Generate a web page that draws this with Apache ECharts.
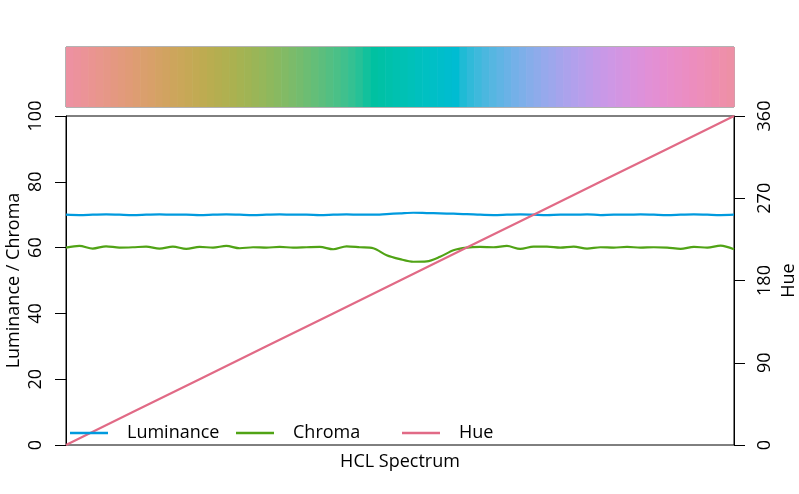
<!DOCTYPE html>
<html>
<head>
<meta charset="utf-8">
<script src="https://cdn.jsdelivr.net/npm/echarts@6/dist/echarts.min.js"></script>
<style>html,body{margin:0;padding:0;background:#fff;}#c{width:799px;height:494px;}</style>
</head>
<body>
<div id="c"></div>
<script>
// Sample positions along the spectrum (0..100)
const positions = [0,2,4,6,8,10,12,14,16,18,20,22,24,26,28,30,32,34,36,38,40,42,44,46,48,50,52,54,56,58,60,62,64,66,68,70,72,74,76,78,80,82,84,86,88,90,92,94,96,98,100];
const luminance = [70.0,69.9,70.0,70.1,70.0,69.9,70.0,70.1,70.0,70.0,69.9,70.0,70.1,70.0,69.9,70.0,70.1,70.0,70.0,69.9,70.0,70.1,70.0,70.0,70.2,70.4,70.6,70.5,70.4,70.3,70.2,70.0,69.9,70.0,70.1,70.0,69.9,70.0,70.0,70.1,69.9,70.0,70.0,70.1,70.0,69.9,70.0,70.1,70.0,69.9,70.0];
const chroma = [60.0,60.5,59.7,60.4,60.0,60.1,60.3,59.7,60.3,59.6,60.2,60.0,60.5,59.8,60.1,60.0,60.2,60.0,60.1,60.2,59.5,60.4,60.1,59.8,57.7,56.5,55.7,55.8,57.2,59.2,60.0,60.2,60.1,60.5,59.6,60.3,60.3,60.0,60.3,59.7,60.1,60.0,60.2,60.0,60.1,60.0,59.6,60.2,60.0,60.6,59.5];
const huePositions = [0,10,20,30,40,50,60,70,80,90,100];
const hue = [0,36,72,108,144,180,216,252,288,324,360];
// Colour bar cell edges (hue degrees)
const barHues = [0,4,8,12,16,20,24,28,32,36,40,44,48,52,56,60,64,68,72,76,80,84,88,92,96,100,104,108,112,116,120,124,128,132,136,140,144,148,152,156,160,164,168,172,176,180,184,188,192,196,200,204,208,212,216,220,224,228,232,236,240,244,248,252,256,260,264,268,272,276,280,284,288,292,296,300,304,308,312,316,320,324,328,332,336,340,344,348,352,356,360];
const leftTicks = [0,20,40,60,80,100];
const rightTicks = [0,90,180,270,360];

function hcl2hex(L, C, H) {
  const h = H * Math.PI / 180;
  const U = C * Math.cos(h), V = C * Math.sin(h);
  const Y = L > 8 ? Math.pow((L + 16) / 116, 3) : L / 903.3;
  const Xn = 0.95047, Yn = 1.0, Zn = 1.08883;
  const t = Xn + 15 * Yn + 3 * Zn;
  const un = 4 * Xn / t, vn = 9 * Yn / t;
  const u = U / (13 * L) + un, v = V / (13 * L) + vn;
  const X = 9 * Y * u / (4 * v);
  const Z = -X / 3 - 5 * Y + 3 * Y / v;
  const lin = [
    3.240479 * X - 1.537150 * Y - 0.498535 * Z,
    -0.969256 * X + 1.875992 * Y + 0.041556 * Z,
    0.055648 * X - 0.204043 * Y + 1.057311 * Z
  ];
  return '#' + lin.map(c => {
    let g = c <= 0.0031308 ? 12.92 * c : 1.055 * Math.pow(Math.max(c, 0), 1 / 2.4) - 0.055;
    g = Math.min(1, Math.max(0, g));
    return Math.round(g * 255).toString(16).padStart(2, '0');
  }).join('');
}

const FONT = 'Open Sans';
const barCells = [];
for (let i = 0; i < barHues.length - 1; i++) {
  barCells.push([barHues[i], barHues[i + 1]]);
}

const chart = echarts.init(document.getElementById('c'), null, {renderer: 'canvas'});
chart.setOption({
  animation: false,
  textStyle: {fontFamily: FONT},
  grid: [
    {left: 66, right: 65, top: 116, bottom: 49, show: true, borderColor: '#000', borderWidth: 1, backgroundColor: 'transparent', containLabel: false, outerBoundsMode: 'none'},
    {left: 66, right: 65, top: 47, height: 60, show: true, borderColor: '#666', borderWidth: 1, backgroundColor: 'transparent', containLabel: false, outerBoundsMode: 'none'}
  ],
  xAxis: [
    {type: 'value', gridIndex: 0, min: 0, max: 100, axisLine: {show: false}, axisTick: {show: false}, axisLabel: {show: false}, splitLine: {show: false},
     name: 'HCL Spectrum', nameLocation: 'middle', nameGap: 8, nameMoveOverlap: false,
     nameTextStyle: {fontFamily: FONT, fontSize: 18, color: '#000', verticalAlign: 'top'}},
    {type: 'value', gridIndex: 1, min: 0, max: 360, show: false}
  ],
  yAxis: [
    {type: 'value', gridIndex: 0, min: 0, max: 100, interval: 20, position: 'left',
     axisLine: {show: true, lineStyle: {color: '#000', width: 1}},
     axisTick: {show: true, length: 11, lineStyle: {color: '#000', width: 1}},
     axisLabel: {rotate: 90, margin: 21, fontFamily: FONT, fontSize: 18, color: '#000'},
     splitLine: {show: false},
     name: 'Luminance / Chroma', nameLocation: 'middle', nameGap: 43, nameRotate: 90, nameMoveOverlap: false,
     nameTextStyle: {fontFamily: FONT, fontSize: 18, color: '#000'}},
    {type: 'value', gridIndex: 0, min: 0, max: 360, interval: 90, position: 'right',
     axisLine: {show: true, lineStyle: {color: '#000', width: 1}},
     axisTick: {show: true, length: 11, lineStyle: {color: '#000', width: 1}},
     axisLabel: {rotate: 90, margin: 22, fontFamily: FONT, fontSize: 18, color: '#000'},
     splitLine: {show: false},
     name: 'Hue', nameLocation: 'middle', nameGap: 46, nameRotate: 90, nameMoveOverlap: false,
     nameTextStyle: {fontFamily: FONT, fontSize: 18, color: '#000'}},
    {type: 'value', gridIndex: 1, min: 0, max: 1, show: false}
  ],
  legend: [
    {data: ['Luminance'], left: 70, top: 424, padding: 0, icon: 'rect', itemWidth: 38, itemHeight: 2.5,
     textStyle: {fontFamily: FONT, fontSize: 18, color: '#000', padding: [0, 0, 0, 14]}, selectedMode: false},
    {data: ['Chroma'], left: 236, top: 424, padding: 0, icon: 'rect', itemWidth: 38, itemHeight: 2.5,
     textStyle: {fontFamily: FONT, fontSize: 18, color: '#000', padding: [0, 0, 0, 14]}, selectedMode: false},
    {data: ['Hue'], left: 402, top: 424, padding: 0, icon: 'rect', itemWidth: 38, itemHeight: 2.5,
     textStyle: {fontFamily: FONT, fontSize: 18, color: '#000', padding: [0, 0, 0, 14]}, selectedMode: false}
  ],
  series: [
    {name: 'Luminance', type: 'line', xAxisIndex: 0, yAxisIndex: 0, symbol: 'none', smooth: 0.3,
     data: positions.map((p, i) => [p, luminance[i]]), lineStyle: {color: '#009ADE', width: 2.2}, itemStyle: {color: '#009ADE'}},
    {name: 'Chroma', type: 'line', xAxisIndex: 0, yAxisIndex: 0, symbol: 'none', smooth: 0.3,
     data: positions.map((p, i) => [p, chroma[i]]), lineStyle: {color: '#50A315', width: 2.2}, itemStyle: {color: '#50A315'}},
    {name: 'Hue', type: 'line', xAxisIndex: 0, yAxisIndex: 1, symbol: 'none',
     data: huePositions.map((p, i) => [p, hue[i]]), lineStyle: {color: '#E16A86', width: 2.2}, itemStyle: {color: '#E16A86'}},
    {type: 'custom', xAxisIndex: 1, yAxisIndex: 2, silent: true, z: 1,
     data: barCells,
     renderItem: function (params, api) {
       const h0 = api.value(0), h1 = api.value(1);
       const p0 = api.coord([h0, 1]);
       const p1 = api.coord([h1, 0]);
       return {type: 'rect', shape: {x: p0[0], y: p0[1], width: p1[0] - p0[0] + 0.6, height: p1[1] - p0[1]},
               style: {fill: hcl2hex(70, 60, (h0 + h1) / 2)}};
     }}
  ]
});
</script>
</body>
</html>
